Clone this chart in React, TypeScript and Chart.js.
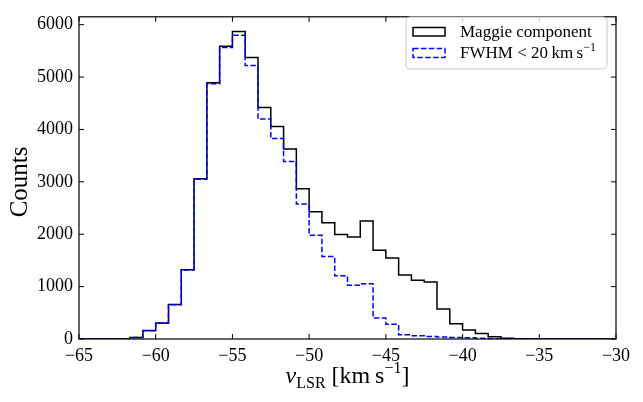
import React, { useEffect, useRef } from "react";
import { Chart, registerables } from "chart.js";

Chart.register(...registerables);

// histogram bins: 42 bins of 5/6 km/s from -65 to -30
const binStart = -65;
const binWidth = 5 / 6;

const maggieCounts = [
    0, 0, 0, 2, 30, 160, 305, 660, 1320, 3060, 4890, 5590, 5870, 5375, 4420,
    4055, 3625, 2870, 2430, 2220, 1995, 1945, 2250, 1695, 1545, 1220, 1120,
    1090, 575, 290, 170, 105, 44, 14, 5, 2, 0, 0, 0, 0, 0, 0,
];
const narrowCounts = [
    0, 0, 0, 2, 30, 158, 303, 655, 1315, 3050, 4870, 5565, 5800, 5220, 4200,
    3825, 3390, 2575, 1980, 1575, 1205, 1025, 1055, 400, 280, 80, 62, 48, 38,
    30, 22, 14, 6, 2, 1, 0, 0, 0, 0, 0, 0, 0,
];

const xTicks = [-65, -60, -55, -50, -45, -40, -35, -30];
const yTicks = [0, 1000, 2000, 3000, 4000, 5000, 6000];
const yMax = 6150;

const serif = "'Liberation Serif', 'Times New Roman', serif";

const toSteps = (counts: number[]) => {
    const pts = [{ x: binStart, y: 0 }];
    counts.forEach((c, i) => pts.push({ x: binStart + i * binWidth, y: c }));
    pts.push({ x: binStart + counts.length * binWidth, y: 0 });
    return pts;
};

// draws the frame, inward ticks, axis titles and the boxed legend
const decorations = {
    id: "decorations",
    afterDraw(chart: any) {
        const { ctx, chartArea: a, scales } = chart;
        ctx.save();
        ctx.strokeStyle = "#000";
        ctx.lineWidth = 1.2;
        ctx.strokeRect(a.left, a.top, a.right - a.left, a.bottom - a.top);

        ctx.lineWidth = 1;
        ctx.beginPath();
        xTicks.forEach((v) => {
            const px = scales.x.getPixelForValue(v);
            ctx.moveTo(px, a.bottom);
            ctx.lineTo(px, a.bottom - 5);
            ctx.moveTo(px, a.top);
            ctx.lineTo(px, a.top + 5);
        });
        yTicks.forEach((v) => {
            const py = scales.y.getPixelForValue(v);
            ctx.moveTo(a.left, py);
            ctx.lineTo(a.left + 5, py);
            ctx.moveTo(a.right, py);
            ctx.lineTo(a.right - 5, py);
        });
        ctx.stroke();

        ctx.fillStyle = "#000";
        ctx.textBaseline = "alphabetic";

        // y title
        ctx.save();
        ctx.translate(27, (a.top + a.bottom) / 2 + 4);
        ctx.rotate(-Math.PI / 2);
        ctx.font = `25px ${serif}`;
        ctx.textAlign = "center";
        ctx.fillText("Counts", 0, 0);
        ctx.restore();

        // x title: v_LSR [km s^-1]
        const base = 383;
        const parts = [
            { t: "v", f: `italic 24px ${serif}`, dy: 0 },
            { t: "LSR", f: `16px ${serif}`, dy: 5 },
            { t: " [km\u2009s", f: `24px ${serif}`, dy: 0 },
            { t: "\u22121", f: `16px ${serif}`, dy: -10 },
            { t: "]", f: `24px ${serif}`, dy: 0 },
        ];
        ctx.textAlign = "left";
        let total = 0;
        parts.forEach((p) => {
            ctx.font = p.f;
            total += ctx.measureText(p.t).width;
        });
        let x = (a.left + a.right) / 2 - total / 2;
        parts.forEach((p) => {
            ctx.font = p.f;
            ctx.fillText(p.t, x, base + p.dy);
            x += ctx.measureText(p.t).width;
        });

        // legend
        const lx = 406, ly = 17, lw = 201, lh = 52, r = 4;
        ctx.beginPath();
        ctx.moveTo(lx + r, ly);
        ctx.arcTo(lx + lw, ly, lx + lw, ly + lh, r);
        ctx.arcTo(lx + lw, ly + lh, lx, ly + lh, r);
        ctx.arcTo(lx, ly + lh, lx, ly, r);
        ctx.arcTo(lx, ly, lx + lw, ly, r);
        ctx.closePath();
        ctx.fillStyle = "rgba(255,255,255,0.8)";
        ctx.fill();
        ctx.strokeStyle = "#cccccc";
        ctx.lineWidth = 1;
        ctx.stroke();

        ctx.lineWidth = 1.5;
        ctx.strokeStyle = "#000";
        ctx.strokeRect(413, 27.5, 32, 8.5);
        ctx.strokeStyle = "#0000ff";
        ctx.setLineDash([5.5, 2.4]);
        ctx.strokeRect(413, 48.5, 32, 9);
        ctx.setLineDash([]);

        ctx.fillStyle = "#000";
        ctx.font = `17px ${serif}`;
        ctx.fillText("Maggie component", 460, 37);
        let tx = 460;
        const legendParts = [
            { t: "FWHM < 20\u2009km\u2009s", f: `17px ${serif}`, dy: 0 },
            { t: "\u22121", f: `12px ${serif}`, dy: -7 },
        ];
        legendParts.forEach((p) => {
            ctx.font = p.f;
            ctx.fillText(p.t, tx, 58 + p.dy);
            tx += ctx.measureText(p.t).width;
        });
        ctx.restore();
    },
};

const App = () => {
    const chartRef = useRef<HTMLCanvasElement | null>(null);

    useEffect(() => {
        if (!chartRef.current) return;
        const chart = new Chart(chartRef.current, {
            type: "line",
            data: {
                datasets: [
                    {
                        label: "FWHM < 20 km s^-1",
                        data: toSteps(narrowCounts),
                        borderColor: "#0000ff",
                        borderWidth: 1.5,
                        borderDash: [5.5, 2.4],
                        stepped: "before",
                        pointRadius: 0,
                        fill: false,
                        order: 0,
                    },
                    {
                        label: "Maggie component",
                        data: toSteps(maggieCounts),
                        borderColor: "#000000",
                        borderWidth: 1.5,
                        stepped: "before",
                        pointRadius: 0,
                        fill: false,
                        order: 1,
                    },
                ],
            },
            options: {
                animation: false,
                responsive: true,
                maintainAspectRatio: false,
                events: [],
                layout: { padding: { top: 10, right: 27, left: 0, bottom: 0 } },
                plugins: {
                    legend: { display: false },
                    tooltip: { enabled: false },
                },
                scales: {
                    x: {
                        type: "linear",
                        min: -65,
                        max: -30,
                        afterBuildTicks: (s: any) => {
                            s.ticks = xTicks.map((v) => ({ value: v }));
                        },
                        afterFit: (s: any) => {
                            s.height = 63;
                        },
                        grid: { display: false, drawTicks: false },
                        border: { display: false },
                        ticks: {
                            padding: 6,
                            color: "#000",
                            font: { family: serif, size: 18 },
                            maxRotation: 0,
                            callback: (v: any) => String(v).replace("-", "\u2212"),
                        },
                    },
                    y: {
                        min: 0,
                        max: yMax,
                        afterBuildTicks: (s: any) => {
                            s.ticks = yTicks.map((v) => ({ value: v }));
                        },
                        afterFit: (s: any) => {
                            s.width = 79;
                        },
                        grid: { display: false, drawTicks: false },
                        border: { display: false },
                        ticks: {
                            padding: 6,
                            color: "#000",
                            font: { family: serif, size: 18 },
                            callback: (v: any) => String(v),
                        },
                    },
                },
            },
            plugins: [decorations],
        });
        return () => {
            chart.destroy();
        };
    }, []);

    return (
        <div
            style={{
                position: "absolute",
                left: 0,
                top: 0,
                width: "643px",
                height: "402px",
                background: "#fff",
            }}
        >
            <canvas ref={chartRef}></canvas>
        </div>
    );
};

export default App;
